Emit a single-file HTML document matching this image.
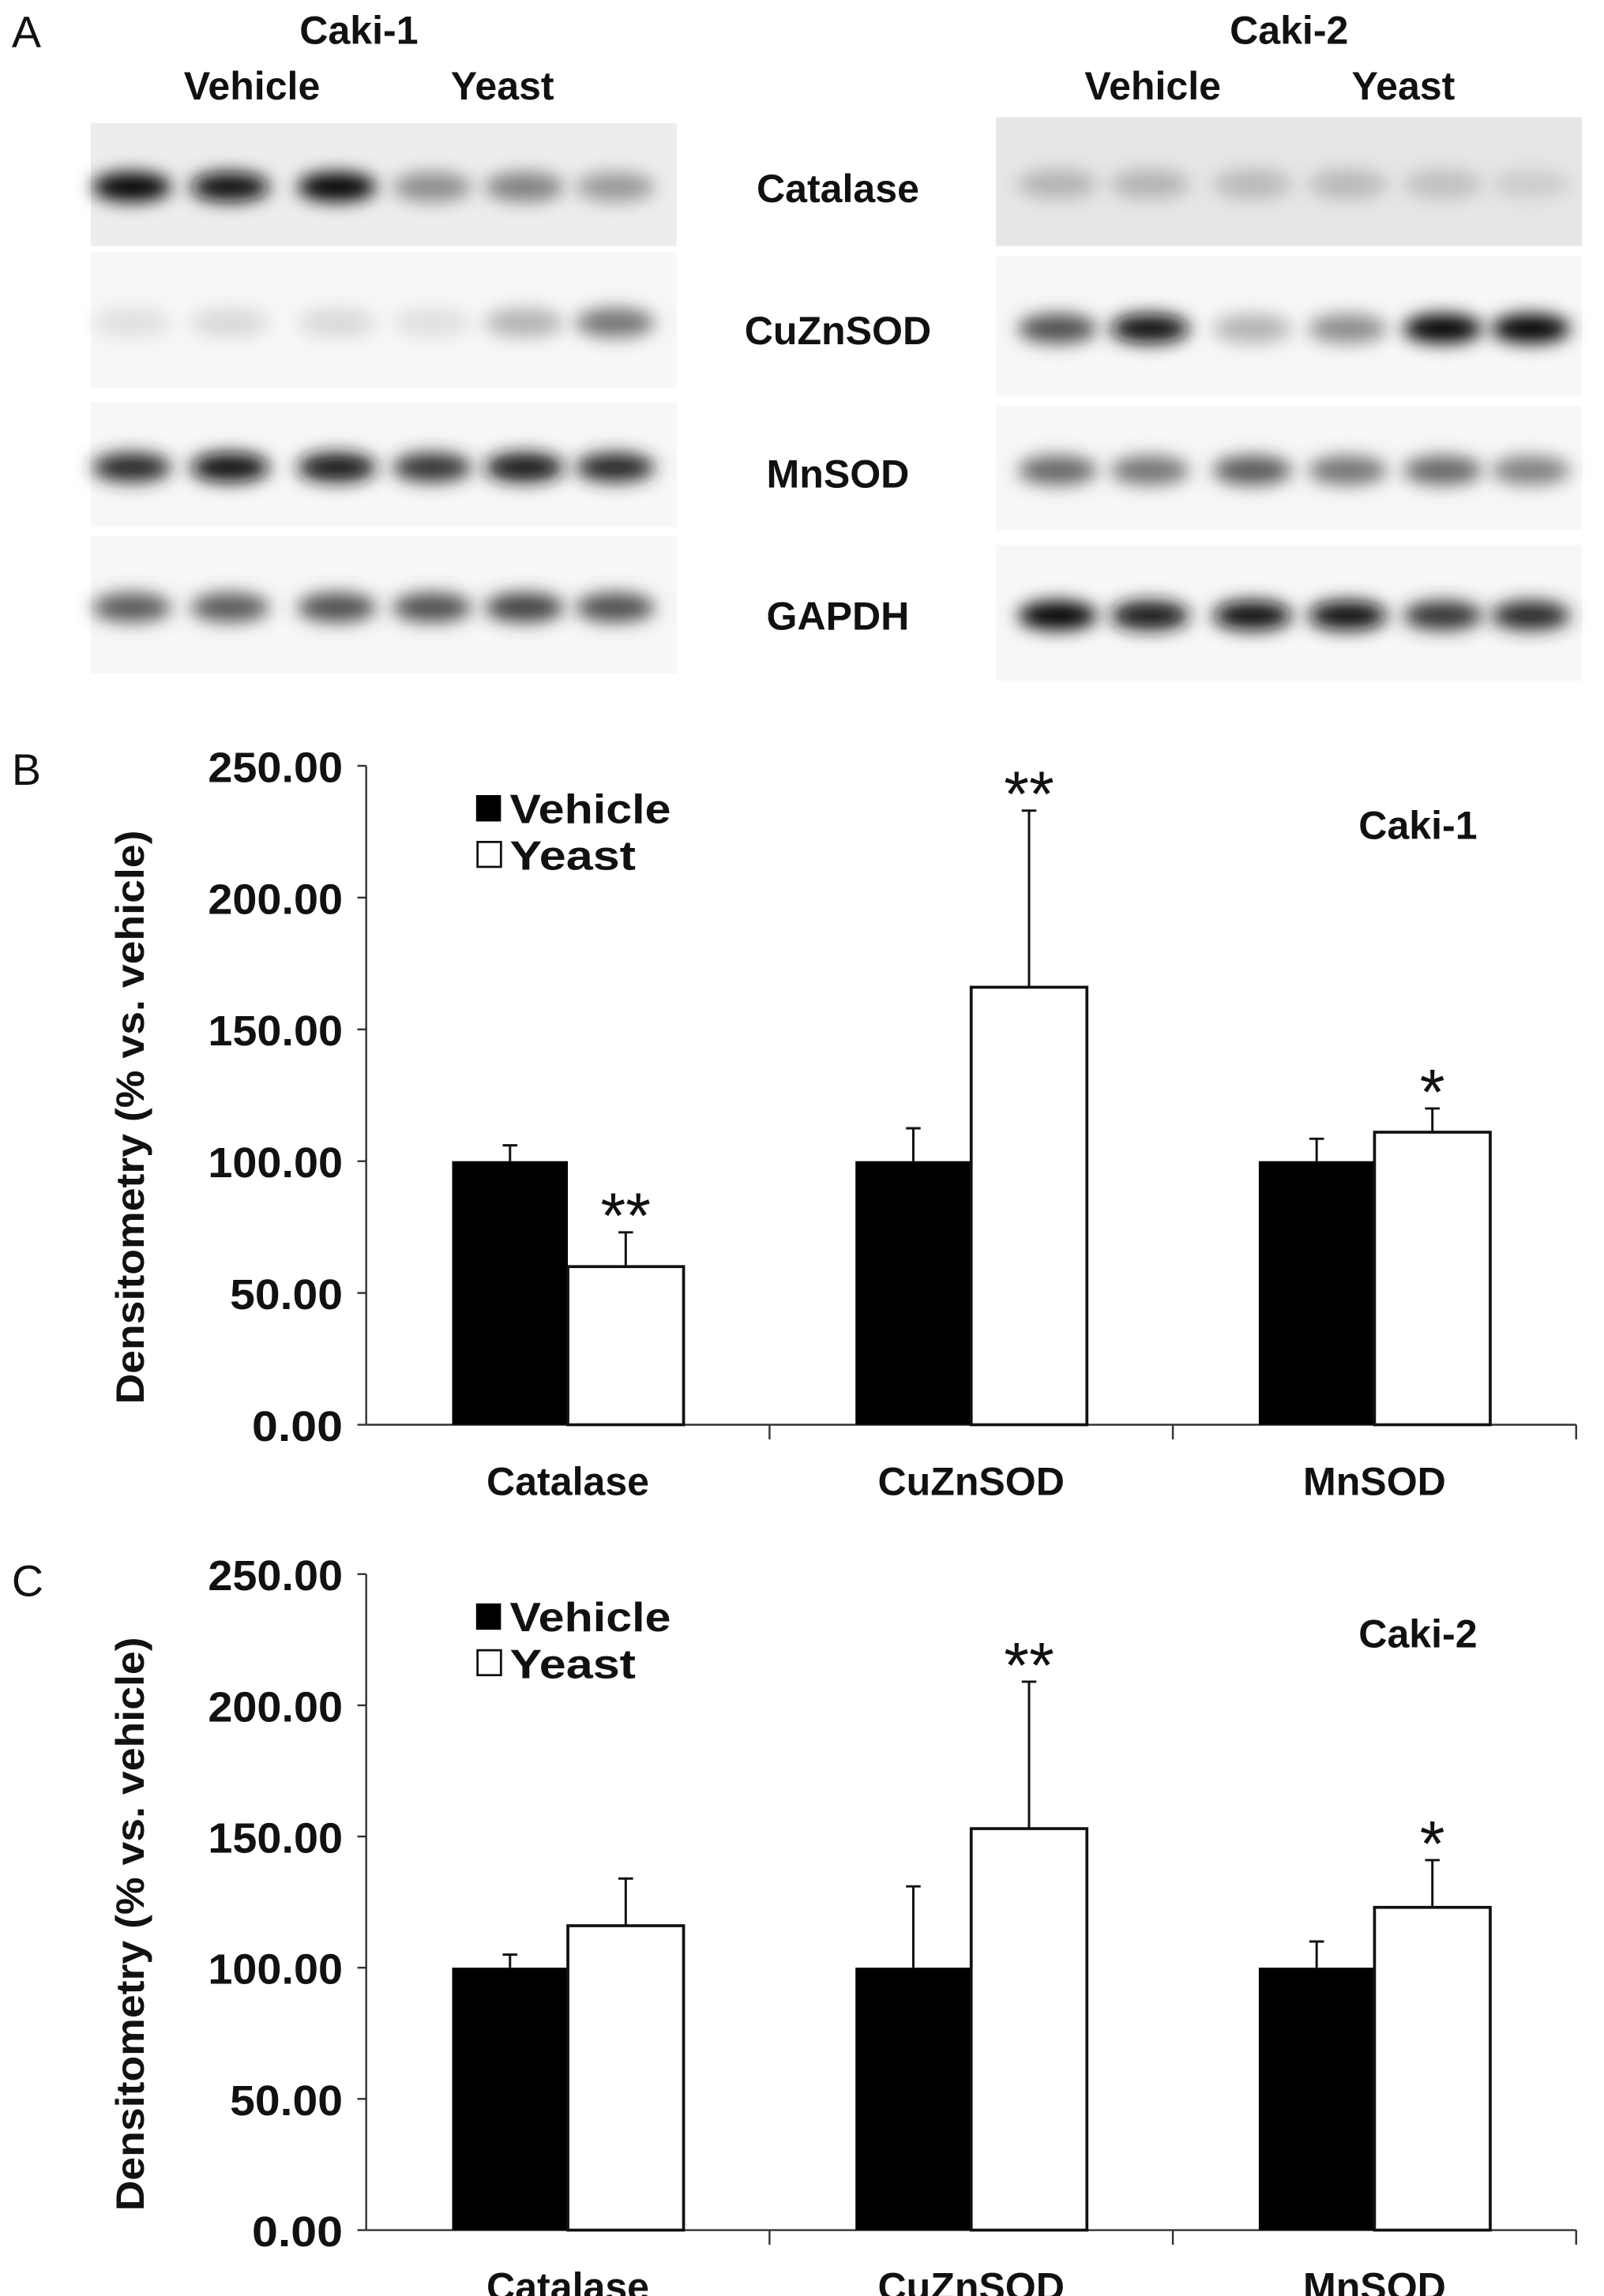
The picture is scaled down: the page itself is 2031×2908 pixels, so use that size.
<!DOCTYPE html>
<html><head><meta charset="utf-8"><style>
html,body{margin:0;padding:0;background:#fff;width:2031px;height:2908px;overflow:hidden}
svg{display:block}
text{font-family:"Liberation Sans",sans-serif;fill:#111}
</style></head><body>
<svg id="fig" width="2031" height="2908" viewBox="0 0 1095 1568" preserveAspectRatio="none" xmlns="http://www.w3.org/2000/svg">
<defs>
<filter id="blur" x="-50%" y="-80%" width="200%" height="260%"><feGaussianBlur stdDeviation="6"/></filter>
</defs>
<text x="8" y="32" font-size="30">A</text>
<g id="blots"></g>
<text x="245" y="30" font-size="27" font-weight="bold" text-anchor="middle">Caki-1</text>
<text x="172" y="68" font-size="27" font-weight="bold" text-anchor="middle">Vehicle</text>
<text x="343" y="68" font-size="27" font-weight="bold" text-anchor="middle">Yeast</text>
<text x="880" y="30" font-size="27" font-weight="bold" text-anchor="middle">Caki-2</text>
<text x="787" y="68" font-size="27" font-weight="bold" text-anchor="middle">Vehicle</text>
<text x="958" y="68" font-size="27" font-weight="bold" text-anchor="middle">Yeast</text>
<text x="572" y="138" font-size="27" font-weight="bold" text-anchor="middle">Catalase</text>
<text x="572" y="235" font-size="27" font-weight="bold" text-anchor="middle">CuZnSOD</text>
<text x="572" y="333" font-size="27" font-weight="bold" text-anchor="middle">MnSOD</text>
<text x="572" y="430" font-size="27" font-weight="bold" text-anchor="middle">GAPDH</text>
<text x="8" y="536" font-size="30">B</text>
<text x="8" y="1090" font-size="30">C</text>
<g id="chartB"></g>
<g id="chartC"></g>
</svg>
<script>
const categories = ["Catalase", "CuZnSOD", "MnSOD"];
const tickValues = [0, 50, 100, 150, 200, 250];
const tickLabels = ["0.00", "50.00", "100.00", "150.00", "200.00", "250.00"];
const b_vehicle = [100, 100, 100];
const b_vehicleErr = [106, 112.5, 108.5];
const b_yeast = [60, 166, 111];
const b_yeastErr = [73, 233, 120];
const b_stars = ["**", "**", "*"];
const c_vehicle = [100, 100, 100];
const c_vehicleErr = [105, 131, 110];
const c_yeast = [116, 153, 123];
const c_yeastErr = [134, 209, 141];
const c_stars = ["", "**", "*"];
const blotC1 = {catalase:[1,0.95,1,0.45,0.5,0.4], cuzn:[0.12,0.15,0.15,0.12,0.3,0.55], mn:[0.85,0.95,0.9,0.8,0.9,0.85], gapdh:[0.65,0.65,0.7,0.7,0.75,0.7]};
const blotC2 = {catalase:[0.3,0.3,0.28,0.28,0.25,0.2], cuzn:[0.7,0.95,0.3,0.45,1,1], mn:[0.6,0.55,0.65,0.55,0.6,0.5], gapdh:[1,0.9,0.95,0.95,0.8,0.85]};

const NS = "http://www.w3.org/2000/svg";
function mk(tag, attrs, parent){const e=document.createElementNS(NS,tag);for(const k in attrs)e.setAttribute(k,attrs[k]);parent.appendChild(e);return e;}

const blots = document.getElementById('blots');
function drawBlot(x0, lanes, strips, data, name){
  const keys=["catalase","cuzn","mn","gapdh"];
  strips.forEach((s,i)=>{
    const bg=mk('rect',{x:x0,y:s[0],width:400,height:s[1]-s[0],fill:i===0&&name==='caki2'?'#e6e6e6':(i===0?'#ededed':'#f7f7f7')},blots);
    
    
    const bandY = s[0]+(s[1]-s[0])*0.52;
    data[keys[i]].forEach((v,j)=>{
      const g=Math.round(255*(1-v));
      const band=mk('ellipse',{cx:lanes[j],cy:bandY,rx:27,ry:10,fill:`rgb(${g},${g},${g})`,filter:'url(#blur)'},blots);
      
      
    });
  });
}
drawBlot(62,[90,157,230,295,358,420],[[84,168],[172,265],[275,360],[366,460]],blotC1,'caki1');
drawBlot(680,[722,785,855,920,985,1045],[[80,168],[175,270],[277,362],[372,465]],blotC2,'caki2');

function drawChart(gid, y0px, y250px, veh, vehErr, yst, ystErr, stars, title){
  const g=document.getElementById(gid);
  const axX=250, axR=1076;
  const yS=v=>y0px-(y0px-y250px)*v/250;
  const groupW=(axR-axX)/categories.length;
  const barW=79;
  const line=mk('line',{x1:axX,y1:y250px,x2:axX,y2:y0px,stroke:'#333','stroke-width':1.3},g);
  
  
  const xl=mk('line',{x1:axX,y1:y0px,x2:axR,y2:y0px,stroke:'#333','stroke-width':1.3},g);
  
  
  tickValues.forEach((t,i)=>{
    const y=yS(t);
    mk('line',{x1:axX-6,y1:y,x2:axX,y2:y,stroke:'#333','stroke-width':1.3},g);
    const len=tickLabels[i].length===6?92:(tickLabels[i].length===5?77:62);
    const tx=mk('text',{x:axX-16,y:y+11,'font-size':29,'font-weight':'bold','text-anchor':'end',textLength:len,lengthAdjust:'spacingAndGlyphs'},g);
    tx.textContent=tickLabels[i];
    
    
  });
  for(let i=1;i<=categories.length;i++){
    mk('line',{x1:axX+groupW*i,y1:y0px,x2:axX+groupW*i,y2:y0px+10,stroke:'#333','stroke-width':1.3},g);
  }
  categories.forEach((c,i)=>{
    const cx=axX+groupW*(i+0.5);
    const ve=mk('line',{x1:cx-barW/2,y1:yS(veh[i]),x2:cx-barW/2,y2:yS(vehErr[i]),stroke:'#111','stroke-width':1.6},g);
    
    
    mk('line',{x1:cx-barW/2-5,y1:yS(vehErr[i]),x2:cx-barW/2+5,y2:yS(vehErr[i]),stroke:'#111','stroke-width':1.6},g);
    const ye=mk('line',{x1:cx+barW/2,y1:yS(yst[i]),x2:cx+barW/2,y2:yS(ystErr[i]),stroke:'#111','stroke-width':1.6},g);
    
    
    mk('line',{x1:cx+barW/2-5,y1:yS(ystErr[i]),x2:cx+barW/2+5,y2:yS(ystErr[i]),stroke:'#111','stroke-width':1.6},g);
    const vb=mk('rect',{x:cx-barW,y:yS(veh[i]),width:barW,height:y0px-yS(veh[i]),fill:'#000'},g);
    
    
    const yb=mk('rect',{x:cx,y:yS(yst[i]),width:barW,height:y0px-yS(yst[i]),fill:'#fff',stroke:'#111','stroke-width':2},g);
    
    
    if(stars[i]){
      const st=mk('text',{x:cx+barW/2,y:yS(ystErr[i])+4,'font-size':44,'text-anchor':'middle'},g);
      st.textContent=stars[i];
      
      
    }
    const cl=mk('text',{x:cx,y:y0px+48,'font-size':27,'font-weight':'bold','text-anchor':'middle'},g);
    cl.textContent=c;
    
    
  });
  const lt=y250px+20;
  const s1=mk('rect',{x:325,y:lt,width:17,height:18,fill:'#000'},g);
  
  
  const t1=mk('text',{x:348,y:lt+19,'font-size':28,'font-weight':'bold',textLength:110,lengthAdjust:'spacingAndGlyphs'},g);
  t1.textContent='Vehicle';
  
  
  const s2=mk('rect',{x:326,y:lt+32,width:16,height:17,fill:'#fff',stroke:'#111','stroke-width':1.5},g);
  
  
  const t2=mk('text',{x:348,y:lt+51,'font-size':28,'font-weight':'bold',textLength:86,lengthAdjust:'spacingAndGlyphs'},g);
  t2.textContent='Yeast';
  
  
  const tt=mk('text',{x:968,y:y250px+50,'font-size':27,'font-weight':'bold','text-anchor':'middle'},g);
  tt.textContent=title;
  
  
  const yl=mk('text',{x:0,y:0,'font-size':27,'font-weight':'bold','text-anchor':'middle',textLength:392,lengthAdjust:'spacingAndGlyphs',transform:`translate(98,${(y0px+y250px)/2+15}) rotate(-90)`},g);
  yl.textContent='Densitometry (% vs. vehicle)';
  
  
}
drawChart('chartB',973,523,b_vehicle,b_vehicleErr,b_yeast,b_yeastErr,b_stars,'Caki-1');
drawChart('chartC',1523,1075,c_vehicle,c_vehicleErr,c_yeast,c_yeastErr,c_stars,'Caki-2');
</script>
</body></html>
